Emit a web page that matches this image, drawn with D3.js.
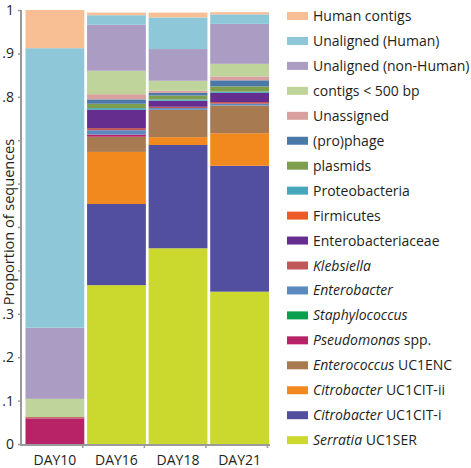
<!DOCTYPE html>
<html><head><meta charset="utf-8">
<script src="https://cdn.jsdelivr.net/npm/d3@7"></script>
<style>body{margin:0;background:#fff}svg{display:block}text{font-family:"Open Sans",sans-serif;fill:#231f20}</style>
</head><body><svg id="c" width="471" height="468"></svg>
<script>
const categories = ["DAY10","DAY16","DAY18","DAY21"];
// series listed bottom (first) to top (last) of the stack
const seriesNames = ["Serratia UC1SER","Citrobacter UC1CIT-i","Citrobacter UC1CIT-ii","Enterococcus UC1ENC","Pseudomonas spp.","Staphylococcus","Enterobacter","Klebsiella","Enterobacteriaceae","Firmicutes","Proteobacteria","plasmids","(pro)phage","Unassigned","contigs < 500 bp","Unaligned (non-Human)","Unaligned (Human)","Human contigs"];
const italicPart = ["Serratia","Citrobacter","Citrobacter","Enterococcus","Pseudomonas","Staphylococcus","Enterobacter","Klebsiella","","","","","","","","","",""];
const serratia      = [0,     0.366, 0.451, 0.351];
const citI          = [0,     0.187, 0.238, 0.290];
const citII         = [0,     0.120, 0.018, 0.075];
const enterococcus  = [0,     0.035, 0.063, 0.064];
const pseudomonas   = [0.059, 0.005, 0,     0];
const staphylococcus= [0,     0,     0,     0];
const enterobacter  = [0,     0.010, 0.004, 0.004];
const klebsiella    = [0.003, 0.005, 0.003, 0.004];
const enterobacteriaceae = [0, 0.042, 0.014, 0.021];
const firmicutes    = [0,     0,     0,     0];
const proteobacteria= [0,     0.004, 0.003, 0.003];
const plasmids      = [0,     0.010, 0.009, 0.012];
const prophage      = [0,     0.010, 0.006, 0.014];
const unassigned    = [0,     0.012, 0.005, 0.009];
const shortContigs  = [0.042, 0.054, 0.023, 0.029];
const unalignedNonHuman = [0.164, 0.106, 0.073, 0.092];
const unalignedHuman    = [0.644, 0.022, 0.073, 0.022];
const humanContigs      = [0.088, 0.006, 0.011, 0.005];
const seriesValues = [serratia,citI,citII,enterococcus,pseudomonas,staphylococcus,enterobacter,klebsiella,enterobacteriaceae,firmicutes,proteobacteria,plasmids,prophage,unassigned,shortContigs,unalignedNonHuman,unalignedHuman,humanContigs];
const colors = ["#cbd92e","#524fa0","#f2891f","#a77a52","#b82367","#0aa050","#5a8ac0","#c0585a","#652d8e","#ec5a28","#46a6bc","#7e9e4e","#4a78a8","#d9a0a0","#bed49a","#ab9cc3","#8ec8d8","#f9bf94"];
const yTicks = [0,0.1,0.2,0.3,0.4,0.5,0.6,0.7,0.8,0.9,1];
const yTickLabels = ["0",".1",".2",".3","","","","",".8",".9","1"];

const svg = d3.select("#c");
const x = d3.scaleBand().domain(categories).range([25.5,269]).paddingInner(0.045).paddingOuter(0);
const y = d3.scaleLinear().domain([0,1]).range([444,10]);

const rows = categories.map((c,i)=>{const o={cat:c}; seriesNames.forEach((s,j)=>o[s]=seriesValues[j][i]); return o;});
const stack = d3.stack().keys(seriesNames)(rows);
const color = d3.scaleOrdinal().domain(seriesNames).range(colors);

svg.append("g").selectAll("g").data(stack).join("g").attr("fill",d=>color(d.key))
  .selectAll("rect").data(d=>d).join("rect")
  .attr("x",d=>x(d.data.cat)).attr("width",x.bandwidth())
  .attr("y",d=>y(d[1])).attr("height",d=>Math.max(0,y(d[0])-y(d[1])));

// y axis
const ya = svg.append("g").attr("transform","translate(21,0)")
  .call(d3.axisLeft(y).tickValues(yTicks).tickSize(3).tickFormat((d,i)=>yTickLabels[i]));
ya.select(".domain").attr("stroke","#9a9a9a").attr("stroke-width",2).attr("d","M0,10V445");
ya.selectAll(".tick line").attr("stroke","#9a9a9a").attr("stroke-width",1.5);
ya.selectAll(".tick text").attr("x",-7).style("font-size","14px").attr("fill","#231f20");

// x axis
const xa = svg.append("g").attr("transform","translate(0,445)");
xa.append("line").attr("x1",20).attr("x2",270).attr("y1",0).attr("y2",0).attr("stroke","#9a9a9a").attr("stroke-width",2);
xa.selectAll(".xt").data(categories).join("line").attr("class","xt")
  .attr("x1",d=>x(d)+x.bandwidth()-1.5).attr("x2",d=>x(d)+x.bandwidth()-1.5).attr("y1",0).attr("y2",3)
  .attr("stroke","#9a9a9a").attr("stroke-width",1.5);
xa.selectAll(".xl").data(categories).join("text").attr("class","xl")
  .attr("x",d=>x(d)+x.bandwidth()/2).attr("y",20).attr("text-anchor","middle").style("font-size","14px").text(d=>d);

svg.append("text").attr("transform","translate(14,222) rotate(-90)").attr("text-anchor","middle")
  .style("font-size","14.5px").text("Proportion of sequences");

// legend (top to bottom = reversed stack order)
const legendItems = seriesNames.map((s,i)=>({name:s,it:italicPart[i],c:colors[i]})).reverse();
const lg = svg.append("g");
const li = lg.selectAll("g").data(legendItems).join("g").attr("transform",(d,i)=>`translate(287,${16+i*24.95})`);
li.append("rect").attr("x",0).attr("y",-4).attr("width",21).attr("height",8).attr("fill",d=>d.c);
const lt = li.append("text").attr("x",26).attr("y",5).style("font-size","14px");
lt.each(function(d){
  const t=d3.select(this);
  if(d.it){ t.append("tspan").style("font-style","italic").text(d.it); const rest=d.name.slice(d.it.length); if(rest) t.append("tspan").text(rest);}
  else t.text(d.name);
});
</script></body></html>
